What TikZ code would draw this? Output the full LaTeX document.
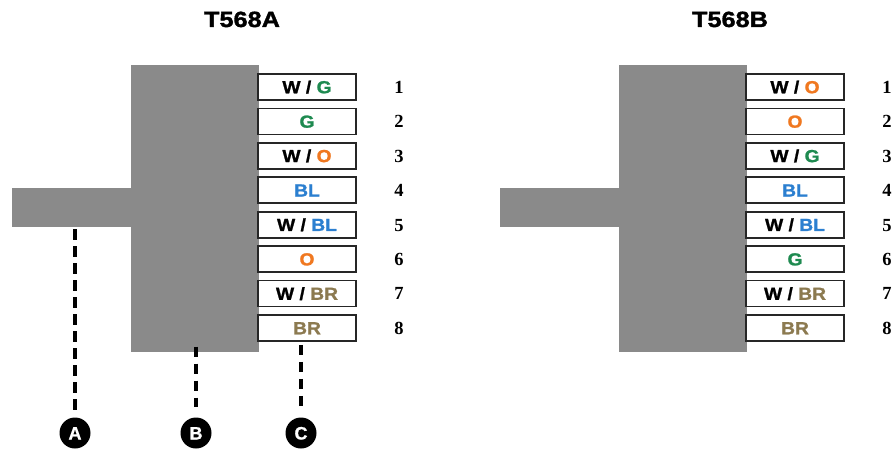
\documentclass[tikz,border=0pt]{standalone}
\usepackage{fontspec}
\setmainfont{Liberation Sans}
\newfontfamily\titlefont[FakeStretch=1.15,FakeBold=1.6]{Liberation Sans}
\newfontfamily\boxfont[FakeStretch=1.1,FakeBold=1.2]{Liberation Sans}
\newfontfamily\tagfont[FakeBold=1]{Liberation Sans}
\newfontfamily\numfont{Liberation Serif}
\definecolor{blockgray}{RGB}{138,138,138}
\definecolor{cgreen}{RGB}{30,138,80}
\definecolor{corange}{RGB}{240,120,32}
\definecolor{cblue}{RGB}{43,127,208}
\definecolor{cbrown}{RGB}{140,122,80}
\newcommand\cG{\textcolor{cgreen}{G}}
\newcommand\cO{\textcolor{corange}{O}}
\newcommand\cBL{\textcolor{cblue}{BL}}
\newcommand\cBR{\textcolor{cbrown}{BR}}
\begin{document}
\begin{tikzpicture}[x=1pt,y=-1pt,
  blk/.style={fill=blockgray, draw=none, inner sep=0pt, outer sep=0pt},
  pinbox/.style={draw=black!85, line width=1.6pt, fill=white, minimum width=98pt,
    minimum height=26pt, inner sep=0pt, text height=12.5pt, text depth=0pt,
    font=\boxfont\bfseries\fontsize{17.5}{18}\selectfont},
  pinnum/.style={inner sep=0pt, text height=12.6pt, text depth=0pt,
    font=\numfont\bfseries\fontsize{18.5}{18.5}\selectfont},
  titletext/.style={inner sep=0pt, anchor=base, font=\titlefont\bfseries\fontsize{22}{22}\selectfont},
  tag/.style={circle, fill=black, minimum size=31pt, inner sep=0pt, text=white,
    text height=13pt, text depth=0pt, font=\tagfont\bfseries\fontsize{18}{18}\selectfont},
  dashln/.style={line width=3.5pt, dash pattern=on 10.5pt off 6.5pt}]
\useasboundingbox (0,0) rectangle (893,452);

% ---------- T568A ----------
\node[titletext] (titleA) at (242,27) {T568A};
\node[blk, minimum width=128pt, minimum height=287pt] (blockA) at (195,208.5) {};
\node[blk, minimum width=119pt, minimum height=39pt] (stubA) at (71.5,207.5) {};
\foreach \t [count=\i] in {{W / \cG},{\cG},{W / \cO},{\cBL},{W / \cBL},{\cO},{W / \cBR},{\cBR}}{
  \node[pinbox] (boxA\i) at (307,{87+34.43*(\i-1)}) {\t};
  \node[pinnum] (numA\i) at (399,{87+34.43*(\i-1)}) {\i};
}
\node[tag] (tagA) at (75,433) {A};
\node[tag] (tagB) at (196,433) {B};
\node[tag] (tagC) at (301,433) {C};
\draw[dashln] ([yshift=-2pt]stubA.south -| tagA.north) -- ([yshift=4.5pt]tagA.north);
\draw[dashln] ([yshift=5.5pt]blockA.south -| tagB.north) -- ([yshift=10pt]tagB.north);
\draw[dashln] ([yshift=-3pt]boxA8.south -| tagC.north) -- ([yshift=10pt]tagC.north);

% ---------- T568B ----------
\node[titletext] (titleB) at (730,27) {T568B};
\node[blk, minimum width=128pt, minimum height=287pt] (blockB) at (683,208.5) {};
\node[blk, minimum width=119pt, minimum height=39pt] (stubB) at (559.5,207.5) {};
\foreach \t [count=\i] in {{W / \cO},{\cO},{W / \cG},{\cBL},{W / \cBL},{\cG},{W / \cBR},{\cBR}}{
  \node[pinbox] (boxB\i) at (795,{87+34.43*(\i-1)}) {\t};
  \node[pinnum] (numB\i) at (887,{87+34.43*(\i-1)}) {\i};
}
\end{tikzpicture}
\end{document}
